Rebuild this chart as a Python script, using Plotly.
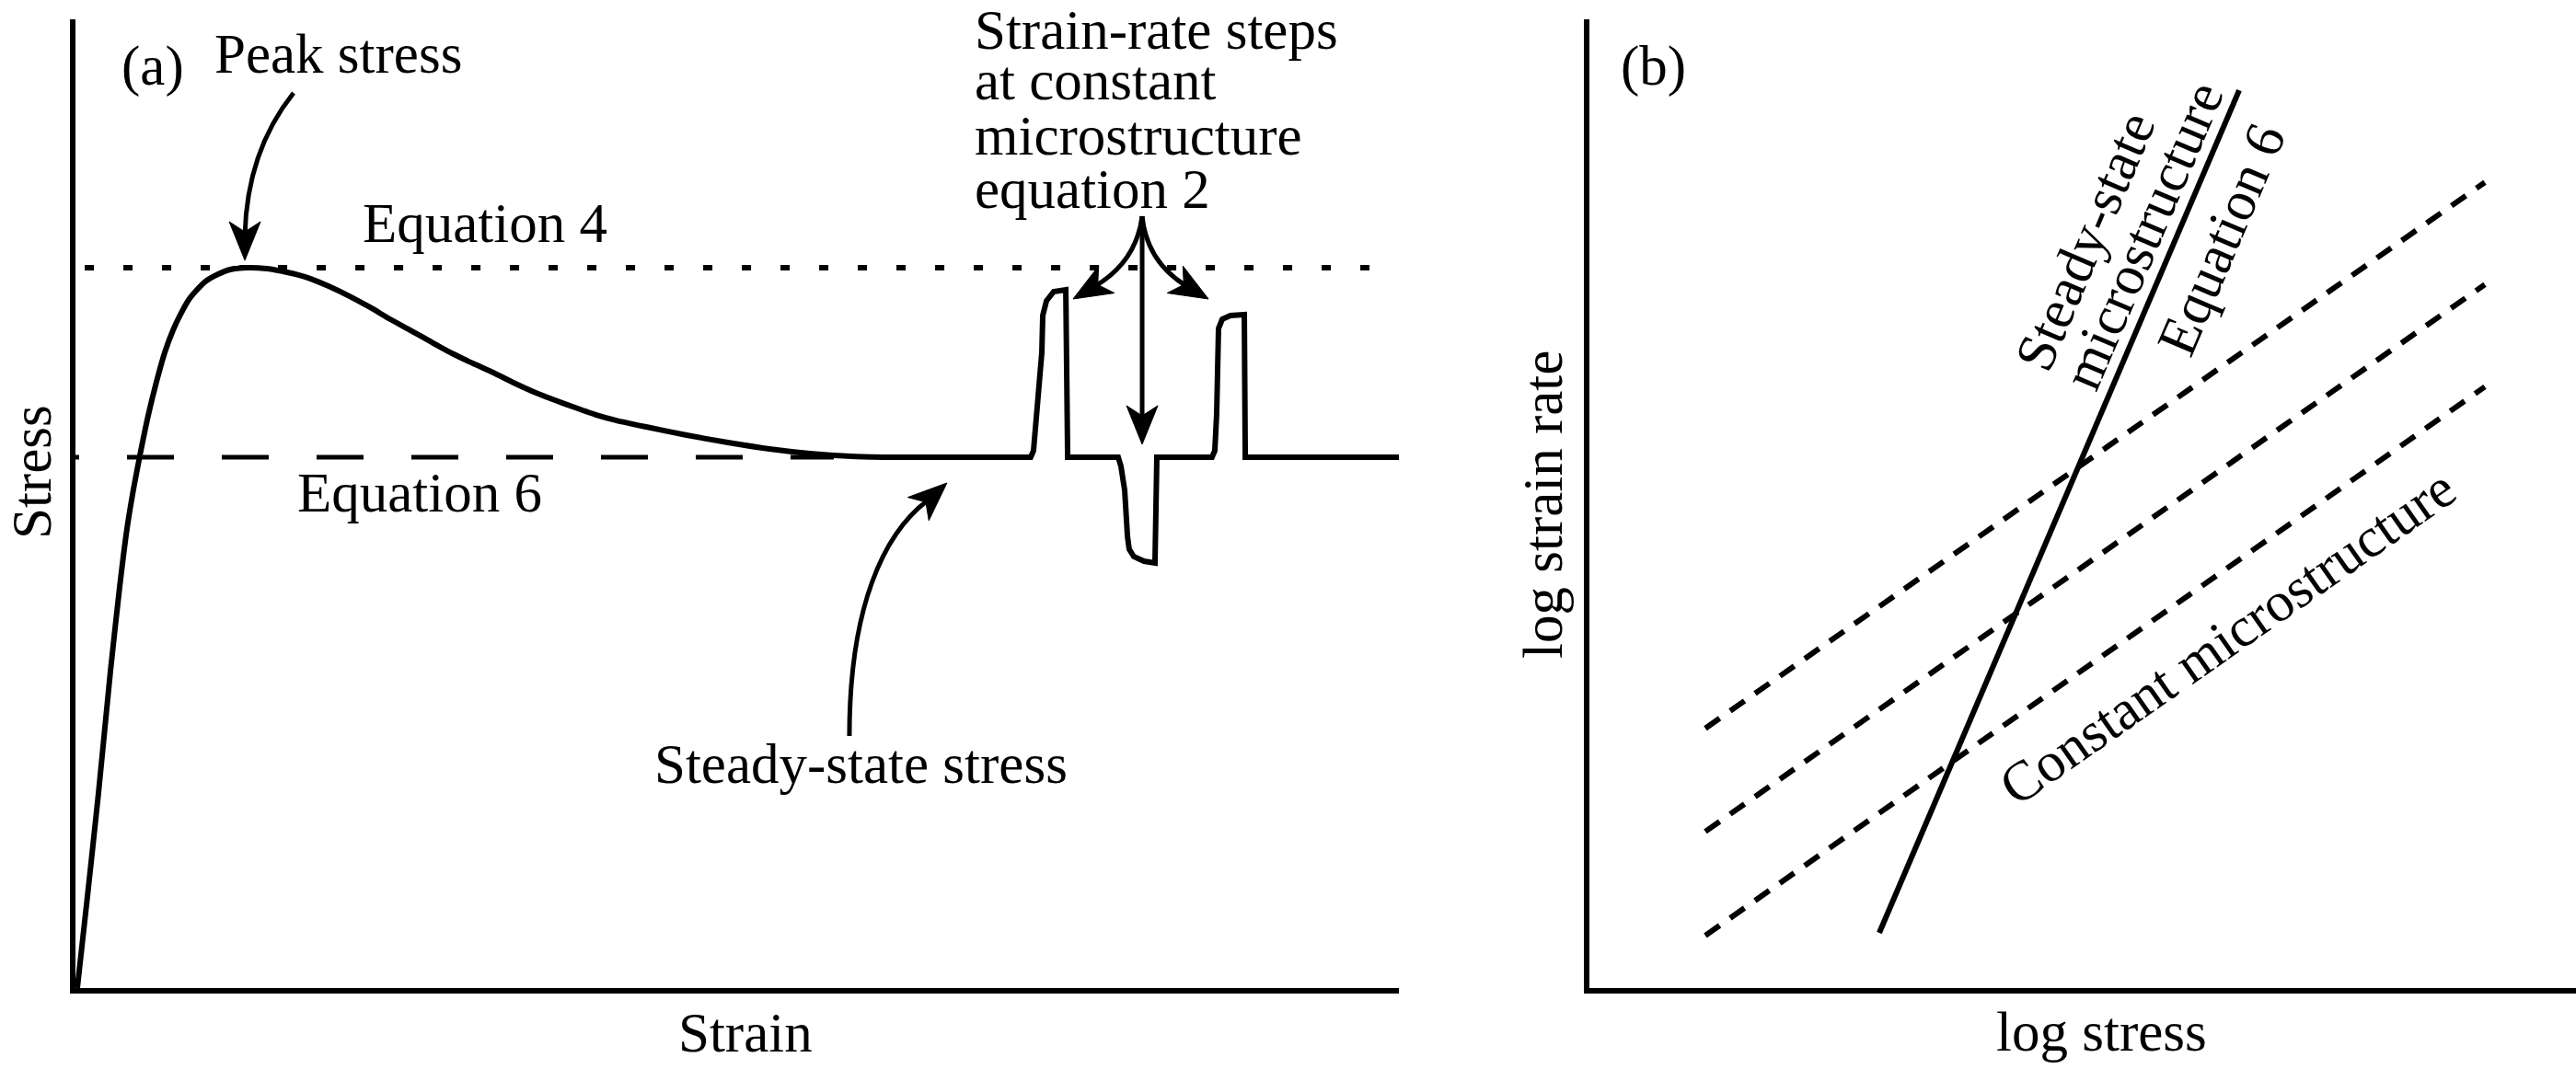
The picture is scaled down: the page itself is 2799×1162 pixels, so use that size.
import math
import plotly.graph_objects as go

W, H = 2799, 1162
FONT = "Liberation Serif"
FS = 61
BLACK = "black"

# ---------------- Panel (a): schematic stress-strain curve (arbitrary units 0-100)
# smooth loading / softening part
strain_smooth = [0.14, 0.90, 1.74, 2.64, 3.34, 3.89, 4.38, 4.87, 5.49, 6.12, 6.75, 7.37,
                 7.93, 8.55, 9.18, 9.81, 10.78, 11.68, 12.93, 14.46, 15.99, 17.59, 19.12,
                 20.72, 22.25, 23.78, 25.31, 26.91, 28.44, 30.04, 31.57, 33.10, 34.63,
                 36.23, 37.76, 39.36, 40.89, 43.12, 46.18, 49.30, 52.43, 55.49, 58.62, 61.06]
stress_smooth = [0.0, 9.40, 20.13, 32.67, 41.41, 47.39, 51.47, 54.99, 59.07, 62.58, 65.62,
                 67.90, 69.52, 71.04, 72.08, 72.93, 73.69, 74.17, 74.36, 74.26, 73.88, 73.31,
                 72.46, 71.41, 70.28, 69.04, 67.90, 66.67, 65.53, 64.48, 63.53, 62.49, 61.54,
                 60.68, 59.92, 59.16, 58.59, 57.93, 57.07, 56.31, 55.65, 55.18, 54.89, 54.80]
# steady state with strain-rate steps (up, down, up)
strain_steps = [61.06, 72.18, 72.39, 72.74, 73.02, 73.09, 73.37, 73.92, 74.83, 74.97,
                78.79, 79.00, 79.28, 79.49, 79.62, 79.97, 80.74, 81.57, 81.71,
                85.88, 86.09, 86.23, 86.30, 86.37, 86.65, 87.27, 88.32, 88.39, 100.0]
stress_steps = [54.80, 54.80, 55.46, 60.87, 65.62, 69.42, 70.94, 71.89, 72.08, 54.80,
                54.80, 53.85, 51.38, 46.63, 45.30, 44.54, 44.06, 43.87, 54.80,
                54.80, 55.46, 59.26, 65.62, 68.09, 69.04, 69.42, 69.52, 54.80, 54.80]

eq4_strain = [0.70, 99.24]      # peak stress level (Equation 4)
eq4_stress = [74.36, 74.36]
eq6_strain = [-3.27, 57.30]     # steady-state level (Equation 6)
eq6_stress = [54.80, 54.80]

# ---------------- Panel (b): log strain rate vs log stress
steady_log_stress = [29.38, 65.86]
steady_log_rate = [5.70, 92.68]
const_log_stress = [11.75, 90.76]
const_log_rate_1 = [26.81, 83.17]
const_log_rate_2 = [16.16, 72.62]
const_log_rate_3 = [5.42, 62.07]

# ---------------- layout geometry (reference pixels)
A_X = (82, 1520)
B_X = (1727, 2799)
Y_PX = (1074, 21)
LW = 6

fig = go.Figure()

fig.add_trace(go.Scatter(x=strain_smooth, y=stress_smooth, mode="lines",
                         line=dict(color=BLACK, width=LW, shape="spline", smoothing=0.6),
                         hoverinfo="skip", xaxis="x", yaxis="y"))
fig.add_trace(go.Scatter(x=strain_steps, y=stress_steps, mode="lines",
                         line=dict(color=BLACK, width=LW),
                         hoverinfo="skip", xaxis="x", yaxis="y"))
fig.add_trace(go.Scatter(x=eq4_strain, y=eq4_stress, mode="lines",
                         line=dict(color=BLACK, width=6, dash="10px,32px"),
                         hoverinfo="skip", xaxis="x", yaxis="y"))
fig.add_trace(go.Scatter(x=eq6_strain, y=eq6_stress, mode="lines",
                         line=dict(color=BLACK, width=5, dash="51px,52px"),
                         hoverinfo="skip", xaxis="x", yaxis="y"))

fig.add_trace(go.Scatter(x=steady_log_stress, y=steady_log_rate, mode="lines",
                         line=dict(color=BLACK, width=LW), hoverinfo="skip",
                         xaxis="x2", yaxis="y2"))
for rates in (const_log_rate_1, const_log_rate_2, const_log_rate_3):
    fig.add_trace(go.Scatter(x=const_log_stress, y=rates, mode="lines",
                             line=dict(color=BLACK, width=6, dash="19px,14px"),
                             hoverinfo="skip", xaxis="x2", yaxis="y2"))

# ---------------- arrows (panel a, data units)
SX = (A_X[1] - A_X[0]) / 100.0
SY = (Y_PX[0] - Y_PX[1]) / 100.0


def arrowhead(tip, tail, L=42, Wd=34, notch=31):
    dx = (tip[0] - tail[0]) * SX
    dy = -(tip[1] - tail[1]) * SY
    n = math.hypot(dx, dy)
    ux, uy = dx / n, dy / n
    qx, qy = -uy, ux

    def pt(a, b):
        ox = -a * ux + b * qx
        oy = -a * uy + b * qy
        return (tip[0] + ox / SX, tip[1] - oy / SY)

    pts = [tip, pt(L, Wd / 2), pt(notch, 0), pt(L, -Wd / 2)]
    return "M " + " L ".join(f"{x:.3f},{y:.3f}" for x, y in pts) + " Z"


arrows = [
    # (shaft path, last point before tip, tip)
    ("M 16.48,92.40 Q 12.93,86.33 12.80,77.59", (12.80, 77.59), (12.80, 75.12)),
    ("M 58.48,26.02 C 58.48,39.32 61.06,46.91 64.39,50.33", (64.39, 50.33), (65.85, 52.14)),
    ("M 80.60,79.68 Q 80.16,74.98 77.05,72.46", (77.05, 72.46), (75.38, 71.13)),
    ("M 80.60,79.68 Q 80.95,74.98 83.94,72.46", (83.94, 72.46), (85.61, 71.13)),
    ("M 80.60,79.68 L 80.60,58.88", (80.60, 58.88), (80.60, 56.13)),
]
shapes = []
for path, tail, tip in arrows:
    shapes.append(dict(type="path", path=path, xref="x", yref="y",
                       line=dict(color=BLACK, width=5), fillcolor="rgba(0,0,0,0)"))
    shapes.append(dict(type="path", path=arrowhead(tip, tail), xref="x", yref="y",
                       line=dict(color=BLACK, width=1), fillcolor=BLACK))

# ---------------- texts (reference pixel centres)
texts = [
    ("(a)", 166, 72, 0, "center"),
    ("Peak stress", 367, 58, 0, "center"),
    ("Equation 4", 527, 242, 0, "center"),
    ("Equation 6", 456, 535, 0, "center"),
    ("Strain-rate steps", 1057, 33, 0, "left"),
    ("at constant", 1057, 88, 0, "left"),
    ("microstructure", 1057, 147, 0, "left"),
    ("equation 2", 1057, 205, 0, "left"),
    ("Steady-state stress", 935, 830, 0, "center"),
    ("Strain", 810, 1122, 0, "center"),
    ("Stress", 34, 513, -90, "center"),
    ("(b)", 1796, 72, 0, "center"),
    ("log strain rate", 1676, 549, -90, "center"),
    ("log stress", 2283, 1121, 0, "center"),
    ("Steady-state", 2265, 262, -66.9, "center"),
    ("microstructure", 2329, 256, -66.9, "center"),
    ("Equation 6", 2413, 260, -66.9, "center"),
    ("Constant microstructure", 2420, 692, -35, "center"),
]
annotations = []
for t, px, py, ang, xa in texts:
    annotations.append(dict(text=t, x=px / W, y=1 - py / H, xref="paper", yref="paper",
                            xanchor=xa, yanchor="middle", textangle=ang, showarrow=False,
                            font=dict(family=FONT, size=FS, color=BLACK)))

axis_common = dict(showline=True, linewidth=6, linecolor=BLACK, showgrid=False,
                   zeroline=False, showticklabels=False, ticks="", range=[0, 100],
                   fixedrange=True)
ydom = [(H - Y_PX[0]) / H, (H - Y_PX[1]) / H]

fig.update_layout(
    width=W, height=H, margin=dict(l=0, r=0, t=0, b=0),
    paper_bgcolor="white", plot_bgcolor="white", showlegend=False,
    font=dict(family=FONT, size=FS, color=BLACK),
    xaxis=dict(domain=[A_X[0] / W, A_X[1] / W], anchor="y", **axis_common),
    yaxis=dict(domain=ydom, anchor="x", **axis_common),
    xaxis2=dict(domain=[B_X[0] / W, 1.0], anchor="y2", **axis_common),
    yaxis2=dict(domain=ydom, anchor="x2", **axis_common),
    shapes=shapes, annotations=annotations,
)

fig.write_html("out.html", config={"displayModeBar": False},
               post_script="document.body.style.margin='0';document.body.style.overflow='hidden';")
